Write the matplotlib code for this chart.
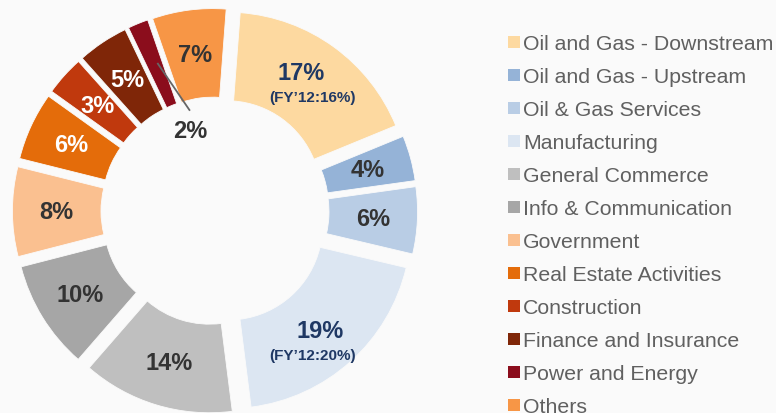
import matplotlib
matplotlib.use("Agg")
import matplotlib.pyplot as plt
import numpy as np
from matplotlib.patches import Rectangle

plt.rcParams['font.family'] = ['Liberation Sans', 'DejaVu Sans']

categories = ["Oil and Gas - Downstream", "Oil and Gas - Upstream", "Oil & Gas Services",
              "Manufacturing", "General Commerce", "Info & Communication", "Government",
              "Real Estate Activities", "Construction", "Finance and Insurance",
              "Power and Energy", "Others"]
# shares (labels show the rounded figures)
values = [17.6, 4.0, 5.9, 19.3, 13.4, 9.6, 7.9, 6.0, 3.5, 4.5, 1.8, 6.5]
labels = ["17%", "4%", "6%", "19%", "14%", "10%", "8%", "6%", "3%", "5%", "2%", "7%"]
sublabels = {0: "(FY\u201912:16%)", 3: "(FY\u201912:20%)"}
colors = ["#FDD9A0", "#95B3D7", "#B9CDE5", "#DCE6F2", "#BFBFBF", "#A6A6A6",
          "#FAC090", "#E46C0A", "#C0390D", "#7F2608", "#8B0D1C", "#F79646"]
label_colors = ["#1F3864", "#333333", "#333333", "#1F3864", "#333333", "#333333",
                "#333333", "white", "white", "white", "#333333", "#333333"]

BG = "#FAFAFA"
W, H = 776, 414
fig = plt.figure(figsize=(W / 100, H / 100), dpi=100, facecolor=BG)

PX = 183.0            # pixels per data unit (pie radius)
LIM = 1.15
cx, cy = 215, 414 - 212
half = LIM * PX
ax = fig.add_axes([(cx - half) / W, (cy - half) / H, 2 * half / W, 2 * half / H])
ax.set_facecolor(BG)

EXP = 0.107
wedges, _ = ax.pie(values, colors=colors, startangle=85.7, counterclock=False,
                   radius=1.0, explode=[EXP] * len(values),
                   wedgeprops=dict(width=0.484, edgecolor=BG, linewidth=0.6))
ax.set_xlim(-LIM, LIM)
ax.set_ylim(-LIM, LIM)
ax.set_aspect('equal')
ax.axis('off')

# pixel offsets for the two-line labels (main, sub)
offsets = {0: ((-7, 10), (5, -14)), 3: ((-1, -2), (-8, -26))}

for i, w in enumerate(wedges):
    ang = np.deg2rad((w.theta1 + w.theta2) / 2)
    r = EXP + 1.0 - 0.484 / 2
    x, y = r * np.cos(ang), r * np.sin(ang)
    if i == 10:
        # small slice: label placed inside the hole with a leader line
        ax.plot([-0.315, -0.137], [0.809, 0.548], color="#666666", lw=1.3,
                solid_capstyle='butt')
        ax.text(-0.137, 0.44, labels[i], ha='center', va='center', fontsize=17,
                fontweight='bold', color=label_colors[i])
        continue
    if i in sublabels:
        (mx, my), (sx, sy) = offsets[i]
        ax.text(x + mx / PX, y + my / PX, labels[i], ha='center', va='center',
                fontsize=17, fontweight='bold', color=label_colors[i])
        ax.text(x + sx / PX, y + sy / PX, sublabels[i], ha='center', va='center',
                fontsize=11, fontweight='bold', color=label_colors[i])
    else:
        ax.text(x, y, labels[i], ha='center', va='center', fontsize=17,
                fontweight='bold', color=label_colors[i])

# legend
for i, (cat, col) in enumerate(zip(categories, colors)):
    base = 50 + 33 * i
    fig.patches.append(Rectangle((508 / W, (H - (base - 1)) / H), 12 / W, 12 / H,
                                 transform=fig.transFigure, facecolor=col, edgecolor='none'))
    fig.text(523 / W, (H - base) / H, cat, fontsize=15.3, color="#606060",
             ha='left', va='baseline')

fig.savefig("out.png", dpi=100, facecolor=BG)
